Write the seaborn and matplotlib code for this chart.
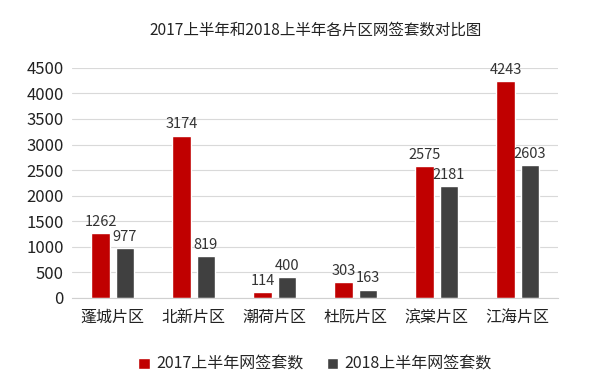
import pandas as pd
import matplotlib
matplotlib.use("Agg")
import matplotlib.pyplot as plt
import seaborn as sb

districts = ['蓬城片区', '北新片区', '潮荷片区', '杜阮片区', '滨棠片区', '江海片区']
sales_2017 = [1262, 3174, 114, 303, 2575, 4243]
sales_2018 = [977, 819, 400, 163, 2181, 2603]
series_names = ['2017上半年网签套数', '2018上半年网签套数']

df = pd.DataFrame({
    'district': districts * 2,
    'count': sales_2017 + sales_2018,
    'series': [series_names[0]] * len(districts) + [series_names[1]] * len(districts),
})

sb.set_style('white')
plt.rcParams['font.family'] = ['Noto Sans CJK SC', 'DejaVu Sans']

fig = plt.figure(figsize=(5.92, 3.92), dpi=100)
ax = fig.add_axes([0.122, 0.24, 0.821, 0.587])

sb.barplot(data=df, x='district', y='count', hue='series',
           palette=['#C00000', '#404040'], saturation=1, width=0.6, gap=0.25,
           ax=ax, legend=True)

for bars in ax.containers:
    ax.bar_label(bars, padding=3, fontsize=10.5, color='#333333')

ax.set_ylim(0, 4500)
ax.set_yticks(range(0, 4501, 500))
ax.yaxis.grid(True, color='#d9d9d9', linewidth=0.8)
ax.set_axisbelow(True)
for s in ['top', 'right', 'left']:
    ax.spines[s].set_visible(False)
ax.spines['bottom'].set_color('#d0d0d0')
ax.tick_params(axis='y', length=0, labelsize=12, colors='#222222', pad=6)
ax.tick_params(axis='x', length=0, labelsize=11.5, colors='#222222', pad=8)
ax.set_xlabel('')
ax.set_ylabel('')

ax.set_title('2017上半年和2018上半年各片区网签套数对比图', fontsize=11.2, color='#222222', pad=24)

ax.legend(loc='upper center', bbox_to_anchor=(0.5, -0.19), ncol=2, frameon=False,
          fontsize=11.5, handlelength=0.7, handleheight=0.7, handletextpad=0.4, columnspacing=1.5)

fig.savefig('out.png', dpi=100, facecolor='white')
